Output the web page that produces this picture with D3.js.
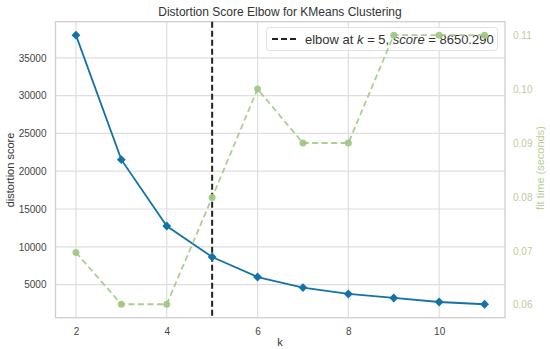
<!DOCTYPE html>
<html>
<head>
<meta charset="utf-8">
<script src="https://cdn.jsdelivr.net/npm/d3@7"></script>
<style>
  html, body { margin: 0; padding: 0; background: #fff; }
  svg { display: block; font-family: "Liberation Sans", Arial, sans-serif; }
</style>
</head>
<body>
<svg id="chart" width="550" height="349"></svg>
<script>
// ---- data ----
const kValues = [2, 3, 4, 5, 6, 7, 8, 9, 10, 11];
const distortionScores = [38000, 21530, 12750, 8650.29, 6000, 4600, 3760, 3230, 2700, 2400];
const fitTimes = [0.0697, 0.0601, 0.0601, 0.0799, 0.1000, 0.0900, 0.0900, 0.1100, 0.1100, 0.1100];
const xTicks = [2, 4, 6, 8, 10];
const yTicks = [5000, 10000, 15000, 20000, 25000, 30000, 35000];
const y2Ticks = [0.06, 0.07, 0.08, 0.09, 0.10, 0.11];
const elbowK = 5;
const elbowScore = 8650.290;
const titleText = "Distortion Score Elbow for KMeans Clustering";

// ---- layout ----
const svg = d3.select("#chart");
const L = 55.5, R = 505, T = 21.7, B = 317.7;
const blue = "#1473a6";
const green = "#9cc67f";

function padded(ext) {
  const m = (ext[1] - ext[0]) * 0.05;
  return [ext[0] - m, ext[1] + m];
}
const x = d3.scaleLinear().domain(padded(d3.extent(kValues))).range([L, R]);
const y = d3.scaleLinear().domain(padded(d3.extent(distortionScores))).range([B, T]);
const y2 = d3.scaleLinear().domain(padded(d3.extent(fitTimes))).range([B, T]);

// grid
const grid = svg.append("g");
grid.selectAll(".gx").data(xTicks).enter().append("line")
  .attr("x1", d => x(d)).attr("x2", d => x(d)).attr("y1", T).attr("y2", B)
  .attr("stroke", "#dedede").attr("stroke-width", 1.2);
grid.selectAll(".gy").data(yTicks).enter().append("line")
  .attr("y1", d => y(d)).attr("y2", d => y(d)).attr("x1", L).attr("x2", R)
  .attr("stroke", "#dedede").attr("stroke-width", 1.2);

// frame
svg.append("rect").attr("x", L).attr("y", T).attr("width", R - L).attr("height", B - T)
  .attr("fill", "none").attr("stroke", "#cfcfcf").attr("stroke-width", 1.3);

// axes
const xAxis = svg.append("g").attr("transform", `translate(0,${B})`)
  .call(d3.axisBottom(x).tickValues(xTicks).tickSize(0).tickPadding(10).tickFormat(d3.format("d")));
const yAxis = svg.append("g").attr("transform", `translate(${L},0)`)
  .call(d3.axisLeft(y).tickValues(yTicks).tickSize(0).tickPadding(9).tickFormat(d3.format("d")));
const y2Axis = svg.append("g").attr("transform", `translate(${R},0)`)
  .call(d3.axisRight(y2).tickValues(y2Ticks).tickSize(0).tickPadding(8).tickFormat(d3.format(".2f")));
[xAxis, yAxis, y2Axis].forEach(a => {
  a.select(".domain").remove();
  a.selectAll("text").attr("font-family", "Liberation Sans, Arial, sans-serif").attr("font-size", 10);
});
xAxis.selectAll("text").attr("fill", "#444");
yAxis.selectAll("text").attr("fill", "#444");
y2Axis.selectAll("text").attr("fill", "#bfcca0");

// elbow line
svg.append("line").attr("x1", x(elbowK)).attr("x2", x(elbowK)).attr("y1", T).attr("y2", B)
  .attr("stroke", "#222").attr("stroke-width", 2).attr("stroke-dasharray", "6,3");

// distortion line
const pts = kValues.map((k, i) => [k, distortionScores[i]]);
svg.append("path").datum(pts)
  .attr("d", d3.line().x(d => x(d[0])).y(d => y(d[1])))
  .attr("fill", "none").attr("stroke", blue).attr("stroke-width", 1.8);
svg.selectAll(".dm").data(pts).enter().append("path")
  .attr("d", d3.symbol(d3.symbolDiamond2, 50)())
  .attr("transform", d => `translate(${x(d[0])},${y(d[1])})`)
  .attr("fill", blue);

// legend
const lg = svg.append("g");
lg.append("rect").attr("x", 266.5).attr("y", 27.5).attr("width", 231).attr("height", 23)
  .attr("rx", 3).attr("fill", "#fff").attr("fill-opacity", 0.8)
  .attr("stroke", "#e2e2e2").attr("stroke-width", 1);
lg.append("line").attr("x1", 272).attr("x2", 296).attr("y1", 39).attr("y2", 39)
  .attr("stroke", "#222").attr("stroke-width", 2).attr("stroke-dasharray", "6,3");
const lt = lg.append("text").attr("x", 305).attr("y", 43.5).attr("font-size", 13).attr("fill", "#333")
  .attr("font-family", "Liberation Sans, Arial, sans-serif");
lt.append("tspan").text("elbow at ");
lt.append("tspan").attr("font-style", "italic").text("k");
lt.append("tspan").text(" = " + elbowK + ", ");
lt.append("tspan").attr("font-style", "italic").text("score");
lt.append("tspan").text(" = " + elbowScore.toFixed(3));

// fit time line (secondary)
const pts2 = kValues.map((k, i) => [k, fitTimes[i]]);
svg.append("path").datum(pts2)
  .attr("d", d3.line().x(d => x(d[0])).y(d => y2(d[1])))
  .attr("fill", "none").attr("stroke", green).attr("stroke-width", 1.8)
  .attr("stroke-dasharray", "6,3.5").attr("opacity", 0.85);
svg.selectAll(".gc").data(pts2).enter().append("circle")
  .attr("cx", d => x(d[0])).attr("cy", d => y2(d[1])).attr("r", 3.5)
  .attr("fill", green).attr("opacity", 0.9);

// title and labels
svg.append("text").attr("x", 280).attr("y", 16).attr("text-anchor", "middle")
  .attr("font-size", 12).attr("fill", "#333").text(titleText);
svg.append("text").attr("x", 280).attr("y", 346).attr("text-anchor", "middle")
  .attr("font-size", 11).attr("fill", "#333").text("k");
svg.append("text").attr("transform", "translate(14,170) rotate(-90)").attr("text-anchor", "middle")
  .attr("font-size", 11).attr("fill", "#333").text("distortion score");
svg.append("text").attr("transform", "translate(544,168) rotate(-90)").attr("text-anchor", "middle")
  .attr("font-size", 11).attr("fill", "#b3d196").text("fit time (seconds)");
</script>
</body>
</html>
